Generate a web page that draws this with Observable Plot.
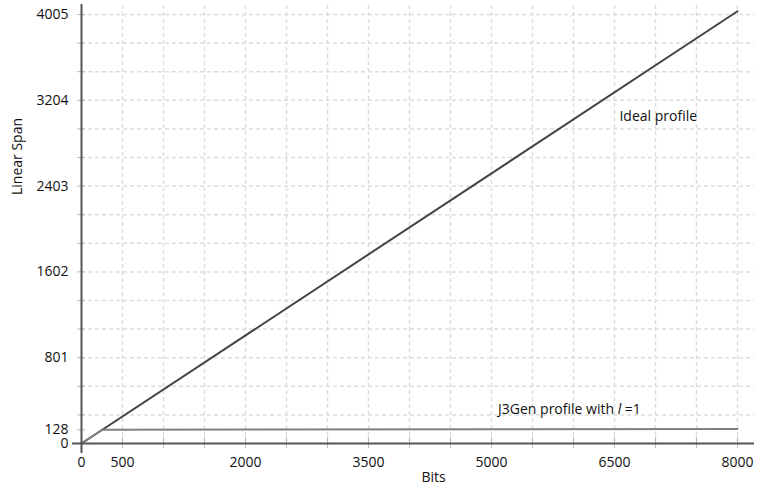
<!DOCTYPE html>
<html><head><meta charset="utf-8">
<script src="https://cdn.jsdelivr.net/npm/d3@7"></script>
<script src="https://cdn.jsdelivr.net/npm/@observablehq/plot@0.6"></script>
<style>body{margin:0;background:#fff}</style>
</head><body><div id="chart"></div>
<script>
// Data
const idealBits = [0, 8000];
const idealSpan = [0, 4035];
const j3genBits = [0, 250, 8000];
const j3genSpan = [0, 128, 136];
const xTickLabels = [0, 500, 2000, 3500, 5000, 6500, 8000];
const yTickLabels = [0, 128, 801, 1602, 2403, 3204, 4005];
const xGrid = [500, 1000, 1500, 2000, 2500, 3000, 3500, 4000, 4500, 5000, 5500, 6000, 6500, 7000, 7500, 8000];
const yGrid = [267, 534, 801, 1068, 1335, 1602, 1869, 2136, 2403, 2670, 2937, 3204, 3471, 3738, 4005];
const yTickMarks = [128, ...yGrid];
const seriesNames = ["Ideal profile", "J3Gen profile with l =1"];
const labelBits = [6560, 5080];
const labelSpan = [3050, 317];
const xTitle = "Bits";
const yTitle = "Linear Span";

const ideal = idealBits.map((x, i) => ({x, y: idealSpan[i]}));
const j3gen = j3genBits.map((x, i) => ({x, y: j3genSpan[i]}));
const labels = seriesNames.map((t, i) => ({t, x: labelBits[i], y: labelSpan[i]}));

const chart = Plot.plot({
  width: 762, height: 490,
  marginLeft: 81, marginRight: 25, marginTop: 14, marginBottom: 47,
  x: {domain: [0, 8000]},
  y: {domain: [0, 4005]},
  style: {fontFamily: "'Open Sans', sans-serif", fontSize: "14px", color: "#111", background: "#fff"},
  marks: [
    Plot.ruleX(xGrid, {stroke: "#ddd", strokeWidth: 1.5, strokeDasharray: "4,3", insetTop: -9}),
    Plot.ruleY(yGrid, {stroke: "#ddd", strokeWidth: 1.5, strokeDasharray: "4,3", insetRight: -17}),
    Plot.ruleX(xGrid, {stroke: "#bbb", strokeWidth: 1, insetTop: 423, insetBottom: -5}),
    Plot.ruleY(yTickMarks, {stroke: "#bbb", strokeWidth: 1, insetLeft: -4, insetRight: 652}),
    Plot.line(ideal, {x: "x", y: "y", stroke: "#444", strokeWidth: 2}),
    Plot.line(j3gen, {x: "x", y: "y", stroke: "#808080", strokeWidth: 2}),
    Plot.ruleY([0], {stroke: "#555", strokeWidth: 2, insetLeft: -9, insetRight: -17}),
    Plot.ruleX([0], {stroke: "#555", strokeWidth: 2, insetTop: -10, insetBottom: -10}),
    Plot.axisX(xTickLabels, {tickSize: 0, tickPadding: 14, label: null, tickFormat: d => String(d)}),
    Plot.axisY(yTickLabels, {tickSize: 0, tickPadding: 13, label: null, tickFormat: d => String(d)}),
    Plot.text(labels, {x: "x", y: "y", text: "t", textAnchor: "start", fill: "#111"}),
    Plot.text([xTitle], {frameAnchor: "bottom", dx: 24, dy: 38, fill: "#111"}),
    Plot.text([yTitle], {frameAnchor: "left", rotate: -90, dx: -64, dy: -34, fill: "#111"})
  ]
});
document.getElementById("chart").appendChild(chart);

// italic "l"
for (const t of chart.querySelectorAll("text")) {
  if (t.textContent === "J3Gen profile with l =1") {
    t.textContent = "";
    const ns = "http://www.w3.org/2000/svg";
    const a = document.createElementNS(ns, "tspan"); a.textContent = "J3Gen profile with ";
    const b = document.createElementNS(ns, "tspan"); b.textContent = "l"; b.setAttribute("font-style", "italic");
    const c = document.createElementNS(ns, "tspan"); c.textContent = " =1";
    t.append(a, b, c);
  }
}
</script>
</body></html>
